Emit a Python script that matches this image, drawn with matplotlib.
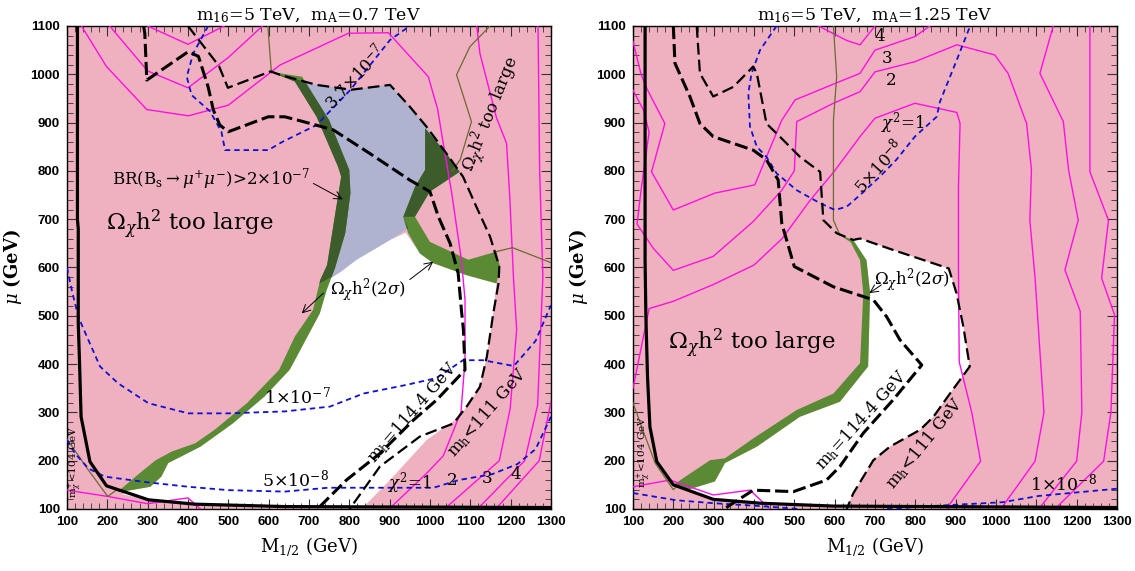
import numpy as np
import matplotlib
matplotlib.use('Agg')
from matplotlib import pyplot as plt
from matplotlib.patches import Polygon
from matplotlib.ticker import MultipleLocator

plt.rcParams['mathtext.fontset'] = 'dejavuserif'
plt.rcParams['font.family'] = 'DejaVu Serif'

PINK = '#efb1c0'
LILAC = '#b0b3d0'
GREEN = '#5b8a34'
DARK_GREEN = '#3d5c2b'
MAGENTA = '#ff10e0'
BLUE = '#1010d0'
OLIVE = '#6b6a30'

# ---- left panel: m16 = 5 TeV, mA = 0.7 TeV  (points are (M1/2, mu) in GeV)
l_chargino = [(126, 1100), (126, 700), (128, 680), (128, 484), (131, 408), (135, 291), (157, 198),
              (198, 148), (302, 119), (417, 110), (640, 105), (1300, 103)]
l_mh114 = [(290, 1100), (293, 1085), (298, 988), (401, 1047), (426, 1037), (450, 974), (463, 926),
           (479, 895), (500, 881), (599, 912), (640, 912), (686, 902), (760, 885), (851, 836),
           (950, 781), (1000, 757), (1021, 705), (1050, 650), (1070, 588), (1078, 512), (1083, 471),
           (1087, 388), (1017, 326), (959, 284), (876, 215), (793, 160), (721, 100)]
l_mh111 = [(400, 1100), (477, 1017), (499, 972), (605, 1006), (628, 999), (719, 978), (805, 968),
           (901, 978), (950, 933), (991, 892), (1041, 836), (1082, 788), (1115, 726), (1149, 664),
           (1172, 602), (1170, 567), (1157, 505), (1141, 415), (1124, 353), (1091, 312), (1058, 277),
           (975, 250), (876, 188), (801, 100)]
l_chi1 = [(136, 1100), (198, 1016), (298, 927), (401, 914), (500, 936), (628, 1019), (798, 1085),
          (897, 1086), (996, 995), (1019, 928), (1033, 857), (1054, 754), (1078, 616), (1087, 533),
          (1087, 408), (1077, 301), (1033, 210), (992, 174), (905, 105), (898, 100)]
l_chi2a = [(206, 1100), (300, 1007), (400, 972), (499, 1034), (585, 1100)]
l_chi2b = [(1116, 1100), (1124, 1043), (1165, 910), (1190, 857), (1198, 745), (1207, 581),
           (1215, 471), (1199, 308), (1172, 200), (1036, 100)]
l_chi3a = [(300, 1100), (400, 1062), (490, 1100)]
l_chi3b = [(1268, 1100), (1272, 800), (1280, 581), (1267, 315), (1235, 200), (1118, 100)]
l_chi4 = [(1300, 322), (1271, 200), (1163, 100)]
l_chi_low = [(100, 139), (201, 126), (300, 111), (400, 123), (431, 100)]
l_br37 = [(450, 1100), (413, 1043), (397, 995), (409, 957), (455, 923), (483, 881), (492, 843),
          (599, 843), (634, 860), (719, 895), (802, 967), (901, 1071), (950, 1100)]
l_br10 = [(100, 600), (112, 553), (128, 498), (153, 450), (182, 395), (227, 360), (302, 319),
          (401, 298), (500, 298), (640, 302), (752, 312), (835, 339), (942, 357), (1016, 371),
          (1082, 408), (1132, 408), (1208, 396), (1262, 448), (1300, 522)]
l_br5 = [(100, 243), (120, 215), (153, 184), (194, 167), (302, 155), (401, 146), (500, 139),
         (640, 136), (747, 144), (1009, 144), (1072, 160), (1154, 172), (1217, 193), (1262, 224),
         (1300, 291)]
l_olive = [[(598, 1100), (607, 1003)],
           [(1149, 1100), (1099, 1057), (1066, 999), (1103, 902), (1075, 823), (1055, 800)],
           [(1165, 633), (1205, 641), (1300, 610)],
           [(100, 245), (151, 183), (201, 126), (224, 140)]]
l_white = [(240, 130), (245, 137), (307, 146), (334, 167), (351, 195), (431, 229), (511, 277),
           (590, 333), (652, 388), (665, 408), (727, 505), (741, 553), (748, 577), (777, 590),
           (818, 616), (901, 657), (940, 672), (975, 629), (1008, 609), (1091, 584), (1165, 567),
           (1157, 505), (1141, 415), (1124, 353), (1091, 312), (1074, 291), (992, 243), (901, 160),
           (834, 103), (640, 105), (417, 110), (302, 119)]
l_lilac = [(607, 1003), (628, 999), (719, 978), (805, 968), (901, 978), (950, 933), (991, 892),
           (1041, 836), (1074, 798), (1000, 757), (963, 705), (934, 705), (946, 681), (901, 657),
           (818, 616), (777, 590), (730, 565), (755, 600), (780, 671), (790, 754), (790, 802),
           (735, 905), (660, 990)]
l_dark_zone = [(560, 1010), (628, 999), (719, 978), (805, 968), (901, 978), (950, 933), (991, 892),
               (1041, 836), (1074, 798), (1000, 757), (963, 705), (934, 705), (946, 681), (901, 657),
               (818, 616), (777, 590), (700, 555), (620, 555), (560, 700)]
l_band1 = [(225, 135), (280, 174), (320, 201), (360, 219), (418, 236), (466, 264), (546, 319),
           (626, 388), (665, 457), (710, 512), (728, 574), (745, 605), (768, 726), (780, 788),
           (772, 809), (719, 912), (665, 985), (605, 1005),
           (683, 995), (750, 905), (800, 802), (803, 754), (790, 671), (765, 600), (744, 553),
           (727, 505), (665, 408), (652, 388), (590, 333), (511, 277), (431, 229), (351, 195),
           (334, 167), (307, 146), (245, 137)]
l_band2 = [(988, 888), (988, 802), (963, 767), (934, 705), (946, 671), (975, 629), (1008, 609),
           (1091, 584), (1165, 567), (1174, 602), (1165, 633), (1095, 616), (1000, 653), (963, 705),
           (1000, 757), (1074, 798), (1041, 836)]

# ---- right panel: m16 = 5 TeV, mA = 1.25 TeV
r_chargino = [(130, 1100), (130, 615), (132, 498), (136, 374), (142, 270), (159, 198), (200, 150),
              (299, 120), (415, 112), (597, 106), (1300, 103)]
r_mh114 = [(200, 1100), (204, 1023), (241, 954), (266, 898), (299, 871), (398, 843), (431, 823),
           (460, 781), (469, 691), (500, 602), (597, 560), (696, 533), (729, 498), (762, 450),
           (816, 398), (745, 326), (671, 257), (613, 188), (580, 160), (498, 136), (398, 139),
           (324, 99)]
r_mh111 = [(258, 1100), (266, 1002), (299, 954), (349, 974), (398, 1016), (407, 1002), (431, 898),
           (464, 871), (514, 829), (564, 798), (572, 698), (605, 671), (646, 657), (663, 660),
           (746, 636), (883, 598), (902, 547), (919, 478), (935, 395), (886, 339), (845, 291),
           (812, 264), (737, 229), (696, 201), (646, 132), (630, 100)]
r_chi1 = [(100, 350), (140, 515), (200, 530), (300, 565), (400, 605), (470, 660), (540, 740),
          (600, 800), (663, 871), (700, 909), (799, 940), (903, 921), (911, 898), (907, 767),
          (907, 595), (909, 404), (940, 300), (962, 199), (877, 100)]
r_chi2 = [(100, 967), (126, 926), (140, 880), (120, 760), (110, 690), (150, 640), (200, 594),
          (299, 623), (398, 695), (469, 760), (500, 800), (506, 902), (597, 940), (663, 964),
          (700, 1005), (799, 1026), (903, 1061), (997, 1040), (1030, 1002), (1076, 898),
          (1088, 802), (1084, 698), (1097, 578), (1119, 300), (1097, 199), (1012, 100)]
r_chi3a = [(100, 1068), (120, 1000), (134, 971), (179, 898), (146, 798), (200, 719), (303, 754),
           (402, 771), (469, 905), (502, 947), (601, 981), (663, 1002), (700, 1050), (799, 1078),
           (836, 1100)]
r_chi3b = [(1142, 1100), (1109, 1002), (1167, 902), (1180, 802), (1204, 698), (1171, 595),
           (1209, 509), (1213, 300), (1200, 199), (1106, 100)]
r_chi4a = [(560, 1100), (630, 1070), (663, 1061), (700, 1100)]
r_chi4b = [(1233, 1100), (1233, 798), (1279, 698), (1262, 578), (1294, 502), (1285, 300),
           (1267, 199), (1146, 100)]
r_chi_low = [(100, 146), (192, 160), (299, 129), (390, 139), (440, 100)]
r_br5 = [(456, 1100), (415, 1050), (394, 1002), (386, 961), (390, 892), (407, 850), (431, 829),
         (456, 795), (506, 760), (564, 733), (601, 719), (630, 726), (663, 750), (712, 788),
         (753, 823), (799, 871), (853, 912), (861, 943), (903, 1030), (936, 1100)]
r_br1a = [(100, 133), (208, 118), (299, 112), (398, 107), (514, 100)]
r_br1b = [(730, 100), (837, 106), (1016, 114), (1106, 127), (1300, 142)]
r_olive = [[(597, 1100), (605, 995), (597, 905), (597, 698), (613, 667)],
           [(100, 320), (125, 262), (155, 195), (200, 140), (215, 152)]]
r_white = [(233, 139), (303, 157), (328, 195), (407, 229), (514, 291), (613, 322), (683, 395),
           (688, 547), (679, 615), (646, 657), (663, 660), (746, 636), (883, 598), (902, 547),
           (919, 478), (935, 395), (886, 339), (845, 291), (812, 264), (737, 229), (696, 201),
           (646, 132), (630, 103), (597, 106), (415, 112), (299, 120)]
r_band = [(200, 150), (291, 201), (328, 205), (398, 246), (506, 305), (597, 339), (663, 402),
          (671, 547), (663, 615), (640, 652), (613, 667),
          (646, 657), (679, 615), (688, 547), (683, 395), (613, 322), (514, 291), (407, 229),
          (328, 195), (303, 157), (233, 139)]


def line(ax, pts, **kw):
    a = np.array(pts, dtype=float)
    ax.plot(a[:, 0], a[:, 1], **kw)


def poly(ax, pts, color, z):
    p = Polygon(np.array(pts, dtype=float), closed=True, fc=color, ec='none', zorder=z)
    ax.add_patch(p)
    return p


def arrow(ax, start, end):
    ax.annotate('', xy=end, xytext=start, zorder=9,
                arrowprops=dict(arrowstyle='->', lw=0.7, color='k', shrinkA=0, shrinkB=0,
                                mutation_scale=14))


def setup(ax, title):
    ax.set_facecolor(PINK)
    ax.set_xlim(100, 1300)
    ax.set_ylim(100, 1100)
    ax.xaxis.set_major_locator(MultipleLocator(100))
    ax.yaxis.set_major_locator(MultipleLocator(100))
    ax.xaxis.set_minor_locator(MultipleLocator(20))
    ax.yaxis.set_minor_locator(MultipleLocator(20))
    ax.tick_params(which='both', direction='in', top=True, right=True, color='#333333')
    ax.tick_params(which='major', length=7, width=0.8, pad=5)
    ax.tick_params(which='minor', length=4, width=0.6)
    for lab in ax.get_xticklabels() + ax.get_yticklabels():
        lab.set_fontfamily('Liberation Sans')
        lab.set_fontweight('bold')
        lab.set_fontsize(9.5)
    ax.set_title(title, fontsize=12.5, pad=4)
    ax.set_xlabel(r'M$_{1/2}$ (GeV)', fontsize=13)
    ax.xaxis.set_label_coords(0.5, -0.055)
    ax.set_ylabel(r'$\mu$ (GeV)', fontsize=13, fontweight='bold')
    ax.yaxis.set_label_coords(-0.088, 0.5)
    for s in ax.spines.values():
        s.set_linewidth(1.0)


def common(ax, chargino, mh114, mh111):
    line(ax, mh114, color='k', lw=2.2, dashes=(4.3, 1.6), dash_capstyle='butt', zorder=6)
    line(ax, mh111, color='k', lw=1.6, dashes=(5.3, 2.3), dash_capstyle='butt', zorder=6)
    line(ax, chargino, color='k', lw=2.3, zorder=7, solid_joinstyle='round')


fig = plt.figure(figsize=(11.35, 5.71), dpi=100)
axL = fig.add_axes([0.059, 0.1086, 0.4264, 0.8459])
axR = fig.add_axes([0.5577, 0.1086, 0.4264, 0.8459])

# ---------------- left
ax = axL
setup(ax, r'm$_{16}$=5 TeV,  m$_{\rm A}$=0.7 TeV')
poly(ax, l_white, 'white', 1)
poly(ax, l_lilac, LILAC, 2)
poly(ax, l_band1, GREEN, 3)
poly(ax, l_band2, GREEN, 3)
zone = Polygon(np.array(l_dark_zone, dtype=float), closed=True, transform=ax.transData)
for band in (l_band1, l_band2):
    d = poly(ax, band, DARK_GREEN, 3.5)
    d.set_clip_path(zone)
for pts in (l_chi1, l_chi2a, l_chi2b, l_chi3a, l_chi3b, l_chi4, l_chi_low):
    line(ax, pts, color=MAGENTA, lw=1.0, zorder=4)
for pts in l_olive:
    line(ax, pts, color=OLIVE, lw=0.9, zorder=4)
for pts in (l_br37, l_br10, l_br5):
    line(ax, pts, color=BLUE, lw=1.3, dashes=(3, 2.2), zorder=5)
common(ax, l_chargino, l_mh114, l_mh111)

ax.text(404, 690, r'$\Omega_\chi$h$^2$ too large', fontsize=16.5, ha='center', va='center', zorder=9)
ax.text(458, 783, r'BR(B$_{\rm s}$$\rightarrow$$\mu^{+}\mu^{-}$)>2$\times$10$^{-7}$', fontsize=12,
        ha='center', va='center', zorder=9)
arrow(ax, (711, 774), (784, 741))
ax.text(847, 553, r'$\Omega_\chi$h$^2$(2$\sigma$)', fontsize=12, ha='center', va='center', zorder=9)
arrow(ax, (736, 547), (682, 505))
arrow(ax, (950, 575), (1008, 612))
ax.text(814, 995, r'3.7$\times$10$^{-7}$', fontsize=12, rotation=47, ha='center', va='center', zorder=9)
ax.text(1151, 917, r'$\Omega_\chi$h$^2$ too large', fontsize=12, rotation=68, ha='center', va='center',
        zorder=9)
ax.text(956, 301, r'm$_{\rm h}$=114.4 GeV', fontsize=12, rotation=49, ha='center', va='center', zorder=9)
ax.text(1142, 301, r'm$_{\rm h}$<111 GeV', fontsize=12, rotation=49, ha='center', va='center', zorder=9)
ax.text(671, 333, r'1$\times$10$^{-7}$', fontsize=12.5, ha='center', va='center', zorder=9)
ax.text(666, 162, r'5$\times$10$^{-8}$', fontsize=12.5, ha='center', va='center', zorder=9)
ax.text(950, 153, r'$\chi^2$=1', fontsize=12, ha='center', va='center', zorder=9)
ax.text(1054, 160, '2', fontsize=12, ha='center', va='center', zorder=9)
ax.text(1141, 163, '3', fontsize=12, ha='center', va='center', zorder=9)
ax.text(1212, 172, '4', fontsize=12, ha='center', va='center', zorder=9)
ax.text(120, 198, r'm$^{+}_{\chi}$<104 GeV', fontsize=7.5, rotation=90, ha='center', va='center', zorder=9)

# ---------------- right
ax = axR
setup(ax, r'm$_{16}$=5 TeV,  m$_{\rm A}$=1.25 TeV')
poly(ax, r_white, 'white', 1)
poly(ax, r_band, GREEN, 3)
for pts in (r_chi1, r_chi2, r_chi3a, r_chi3b, r_chi4a, r_chi4b, r_chi_low):
    line(ax, pts, color=MAGENTA, lw=1.0, zorder=4)
for pts in r_olive:
    line(ax, pts, color=OLIVE, lw=0.9, zorder=4)
for pts in (r_br5, r_br1a, r_br1b):
    line(ax, pts, color=BLUE, lw=1.3, dashes=(3, 2.2), zorder=5)
common(ax, r_chargino, r_mh114, r_mh111)

ax.text(394, 443, r'$\Omega_\chi$h$^2$ too large', fontsize=16.5, ha='center', va='center', zorder=9)
ax.text(791, 574, r'$\Omega_\chi$h$^2$(2$\sigma$)', fontsize=12, ha='center', va='center', zorder=9)
arrow(ax, (716, 564), (686, 547))
ax.text(667, 284, r'm$_{\rm h}$=114.4 GeV', fontsize=12, rotation=48, ha='center', va='center', zorder=9)
ax.text(824, 236, r'm$_{\rm h}$<111 GeV', fontsize=12, rotation=51, ha='center', va='center', zorder=9)
ax.text(708, 809, r'5$\times$10$^{-8}$', fontsize=12, rotation=48, ha='center', va='center', zorder=9)
ax.text(1168, 152, r'1$\times$10$^{-8}$', fontsize=12.5, ha='center', va='center', zorder=9)
ax.text(712, 1078, '4', fontsize=12, ha='center', va='center', zorder=9)
ax.text(729, 1033, '3', fontsize=12, ha='center', va='center', zorder=9)
ax.text(741, 988, '2', fontsize=12, ha='center', va='center', zorder=9)
ax.text(770, 898, r'$\chi^2$=1', fontsize=12, ha='center', va='center', zorder=9)
ax.text(128, 219, r'm$^{+}_{\chi}$<104 GeV', fontsize=7.5, rotation=90, ha='center', va='center', zorder=9)

fig.savefig('out.png', dpi=100)
